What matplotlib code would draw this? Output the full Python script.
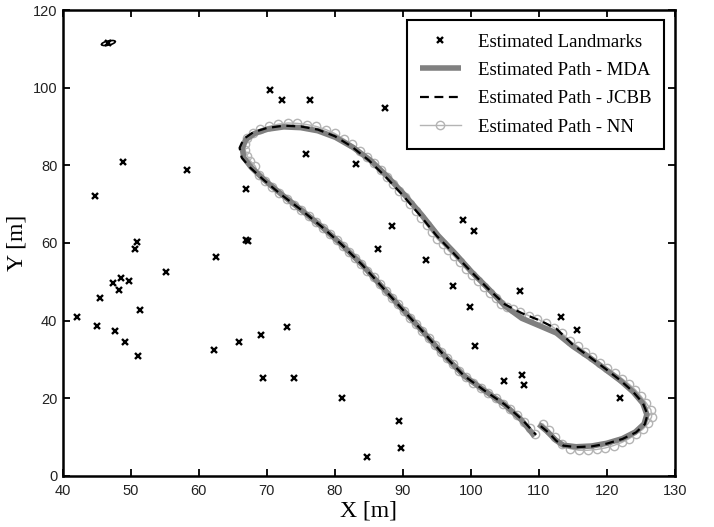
import matplotlib
matplotlib.use("Agg")
import matplotlib.pyplot as plt
from matplotlib.patches import Ellipse

# landmark estimates [m]
lm_x = [46.7, 70.5, 72.2, 76.4, 75.8, 87.4, 48.8, 58.3, 44.8, 67.0, 83.1,
        50.9, 50.6, 67.0, 67.3, 62.6, 55.2, 47.4, 48.6, 49.8, 48.3, 45.4,
        42.1, 45.0, 47.6, 49.1, 51.0, 51.4, 62.3, 65.9, 69.2, 72.9, 69.4,
        74.0, 81.1, 89.4, 89.8, 84.7, 93.4, 86.3, 88.4, 98.9, 100.5, 97.4,
        99.9, 107.2, 113.3, 115.6, 100.6, 104.9, 107.6, 107.8, 122.0]
lm_y = [111.5, 99.4, 96.7, 96.7, 82.9, 94.8, 80.8, 78.8, 72.2, 74.0, 80.4,
        60.2, 58.4, 60.7, 60.5, 56.4, 52.5, 49.7, 51.0, 50.1, 48.0, 45.8,
        40.8, 38.7, 37.3, 34.4, 30.8, 42.6, 32.4, 34.4, 36.2, 38.4, 25.3,
        25.3, 20.1, 14.1, 7.1, 4.8, 55.5, 58.4, 64.3, 66.0, 63.1, 48.9,
        43.5, 47.6, 40.8, 37.5, 33.4, 24.5, 26.0, 23.5, 20.0]

# JCBB path
jcbb_x = [110.3, 111.4, 112.6, 113.6, 115.5, 117.8, 120.0, 122.3, 124.3, 125.6,
          126.0, 125.3, 123.8, 122.0, 119.8, 117.5, 115.0, 112.6, 110.2, 107.5,
          105.0, 102.5, 100.0, 97.5, 95.0, 92.5, 90.0, 87.5, 85.0, 82.5,
          80.0, 77.5, 75.0, 72.5, 70.0, 68.0, 66.6, 66.0, 66.3, 67.5,
          69.5, 72.0, 75.0, 78.0, 81.0, 84.0, 87.0, 90.0, 93.0, 96.0,
          99.0, 102.0, 105.0, 107.5, 109.6]
jcbb_y = [12.8, 11.2, 9.0, 7.8, 7.4, 7.6, 8.3, 9.5, 11.2, 13.3,
          15.8, 18.8, 21.8, 24.6, 27.6, 30.6, 33.8, 37.9, 40.0, 41.9,
          44.2, 48.3, 52.7, 57.3, 61.8, 67.2, 72.3, 77.0, 81.3, 84.8,
          87.5, 89.2, 90.0, 90.2, 89.6, 88.5, 86.8, 84.5, 82.0, 79.5,
          76.3, 72.6, 68.6, 64.3, 59.6, 54.4, 48.6, 42.8, 37.1, 31.2,
          25.8, 22.0, 18.4, 14.6, 10.6]

# MDA path
mda_x = [110.0, 111.2, 112.5, 113.6, 115.5, 117.8, 120.0, 122.3, 124.2, 125.5,
         125.9, 125.3, 123.9, 122.1, 119.9, 117.6, 115.0, 112.6, 110.2, 107.5,
         105.0, 102.6, 100.1, 97.7, 95.2, 92.8, 90.3, 87.8, 85.3, 82.7,
         80.1, 77.5, 75.0, 72.5, 70.1, 68.2, 66.9, 66.4, 66.6, 67.7,
         69.6, 72.1, 75.0, 78.0, 81.0, 84.0, 87.0, 90.0, 93.0, 96.0,
         99.0, 102.0, 105.0, 107.4, 109.4]
mda_y = [13.3, 11.5, 9.2, 7.9, 7.5, 7.7, 8.4, 9.6, 11.3, 13.4,
         15.8, 18.7, 21.6, 24.4, 27.3, 30.3, 33.4, 36.8, 38.6, 40.6,
         43.8, 48.2, 52.6, 57.3, 61.9, 67.2, 72.3, 77.0, 81.2, 84.6,
         87.2, 88.9, 89.7, 89.9, 89.3, 88.2, 86.6, 84.4, 82.0, 79.5,
         76.3, 72.6, 68.6, 64.3, 59.6, 54.4, 48.6, 42.8, 37.1, 31.2,
         25.8, 22.0, 18.3, 14.5, 10.2]

# NN path
nn_x = [110.6, 111.5, 112.4, 113.4, 114.6, 115.9, 117.2, 118.5, 119.8, 121.0,
        122.2, 123.3, 124.3, 125.3, 126.1, 126.6, 126.5, 125.8, 125.0, 124.2,
        123.3, 122.3, 121.2, 120.1, 119.0, 117.9, 116.8, 115.7, 114.6, 113.4,
        112.2, 111.0, 109.8, 108.5, 107.3, 106.2, 105.3, 104.5, 103.7, 102.9,
        102.0, 101.1, 100.2, 99.3, 98.4, 97.5, 96.7, 95.9, 95.1, 94.3,
        93.5, 92.7, 91.9, 91.1, 90.3, 89.5, 88.6, 87.7, 86.8, 85.8,
        84.8, 83.7, 82.5, 81.3, 80.0, 78.7, 77.3, 75.9, 74.5, 73.1,
        71.7, 70.3, 69.0, 67.9, 67.1, 66.8, 66.8, 67.1, 67.6, 68.3,
        68.8, 69.8, 70.8, 71.8, 72.9, 74.0, 75.1, 76.2, 77.3, 78.3,
        79.3, 80.3, 81.2, 82.1, 83.0, 83.9, 84.8, 85.7, 86.6, 87.5,
        88.4, 89.3, 90.2, 91.1, 92.0, 92.9, 93.8, 94.7, 95.6, 96.5,
        97.4, 98.3, 99.3, 100.4, 101.5, 102.6, 103.7, 104.8, 105.8, 106.8,
        107.8, 108.7, 109.5]
nn_y = [13.4, 11.8, 10.0, 8.2, 7.0, 6.6, 6.6, 6.8, 7.2, 7.8,
        8.6, 9.6, 10.7, 12.0, 13.5, 15.2, 17.0, 18.8, 20.6, 22.2,
        23.6, 25.0, 26.4, 27.8, 29.2, 30.6, 32.0, 33.4, 34.8, 36.8,
        38.2, 39.4, 40.4, 41.3, 42.2, 42.9, 43.5, 44.4, 45.7, 47.0,
        48.6, 50.2, 51.7, 53.4, 55.0, 56.7, 58.1, 59.6, 61.0, 62.8,
        64.6, 66.5, 68.3, 70.1, 71.8, 73.5, 75.3, 77.1, 78.8, 80.5,
        82.2, 83.7, 85.4, 86.8, 88.2, 89.2, 90.0, 90.5, 90.8, 90.9,
        90.6, 90.0, 89.3, 88.3, 87.0, 85.5, 84.0, 82.5, 81.1, 79.8,
        77.6, 75.9, 74.4, 72.9, 71.4, 69.9, 68.5, 66.9, 65.3, 63.8,
        62.3, 60.7, 59.3, 57.7, 56.1, 54.6, 52.9, 51.2, 49.4, 47.6,
        45.9, 44.2, 42.4, 40.7, 39.0, 37.3, 35.5, 33.8, 32.0, 30.3,
        28.7, 27.1, 25.4, 24.0, 22.6, 21.3, 20.0, 18.6, 17.2, 15.7,
        14.0, 12.3, 10.8]

# uncertainty ellipse of the far landmark
ell_center = (46.7, 111.5)
ell_w, ell_h, ell_ang = 2.2, 1.0, 25

x_ticks = [40, 50, 60, 70, 80, 90, 100, 110, 120, 130]
y_ticks = [0, 20, 40, 60, 80, 100, 120]

fig = plt.figure(figsize=(7.14, 5.27), dpi=100)
ax = fig.add_axes([0.088, 0.097, 0.857, 0.884])

(h_lm,) = ax.plot(lm_x, lm_y, "x", color="black", markersize=4, markeredgewidth=1.7,
                  linestyle="none", zorder=5)
ax.add_patch(Ellipse(ell_center, ell_w, ell_h, angle=ell_ang, fill=False,
                     edgecolor="black", linewidth=1.2, zorder=5))
(h_nn,) = ax.plot(nn_x, nn_y, "-o", color="#b4b4b4", linewidth=1.0, markersize=6,
                  markerfacecolor="none", markeredgewidth=1.0, zorder=2)
(h_mda,) = ax.plot(mda_x, mda_y, color="#808080", linewidth=4.0,
                   solid_capstyle="butt", zorder=3)
(h_jcbb,) = ax.plot(jcbb_x, jcbb_y, color="black", linewidth=1.6,
                    linestyle=(0, (4, 2.5)), zorder=4)

ax.set_xlim(40, 130)
ax.set_ylim(0, 120)
ax.set_xticks(x_ticks)
ax.set_yticks(y_ticks)
ax.tick_params(direction="in", top=True, right=True, length=5, width=1.3,
               labelsize=10.5, labelcolor="#222222")
ax.tick_params(axis="x", pad=6)
ax.tick_params(axis="y", pad=4)
for lab in ax.get_xticklabels() + ax.get_yticklabels():
    lab.set_fontfamily("Liberation Sans")
for s in ax.spines.values():
    s.set_linewidth(1.8)

ax.set_xlabel("X [m]", fontfamily="Liberation Serif", fontsize=17, labelpad=2)
ax.set_ylabel("Y [m]", fontfamily="Liberation Serif", fontsize=17, labelpad=4)

leg = ax.legend([h_lm, h_mda, h_jcbb, h_nn],
                ["Estimated Landmarks", "Estimated Path - MDA",
                 "Estimated Path - JCBB", "Estimated Path - NN"],
                loc="upper right", prop={"family": "Liberation Serif", "size": 13.5},
                frameon=True, fancybox=False, edgecolor="black", framealpha=1,
                handlelength=2.2, borderaxespad=0.55, labelspacing=0.6,
                handletextpad=0.9, borderpad=0.7)
leg.get_frame().set_linewidth(1.5)

fig.savefig("out.png", dpi=100)
